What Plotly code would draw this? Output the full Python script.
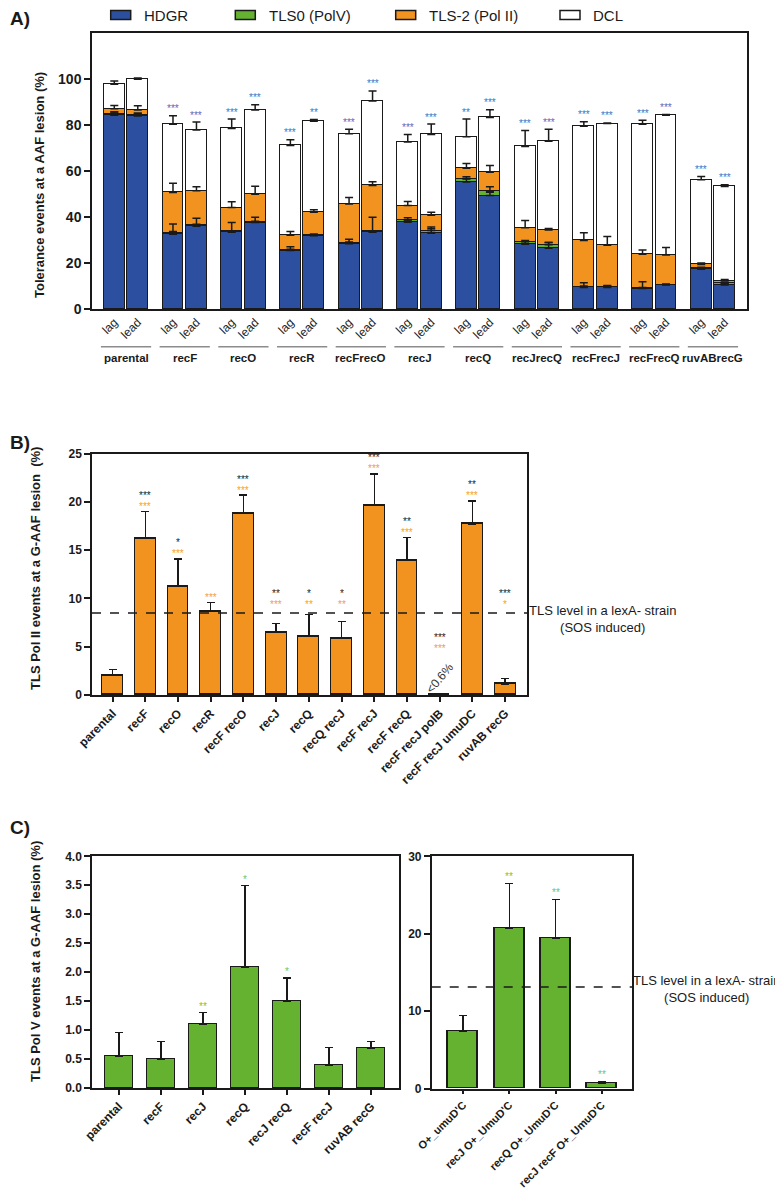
import plotly.graph_objects as go

# reference canvas in px; the page body adds an 8px margin around the figure
W, H = 783, 1193
OFF = 8
FW, FH = W - OFF, H - OFF
FONT = "Liberation Sans, Arial, sans-serif"
INK = "#1a1a1a"

# ---------------- A) tolerance events per strand (stacked)
groups_a = ["parental", "recF", "recO", "recR", "recFrecO", "recJ",
            "recQ", "recJrecQ", "recFrecJ", "recFrecQ", "ruvABrecG"]
strands_a = ["lag", "lead"]
series_a = ["HDGR", "TLS0 (PolV)", "TLS-2 (Pol II)", "DCL"]

hdgr = [84.2, 83.9, 32.5, 36.0, 33.4, 37.6, 25.4, 31.9, 28.4, 33.4, 37.7,
        32.9, 55.2, 49.3, 28.2, 26.4, 9.4, 9.4, 8.9, 10.4, 17.3, 10.4]
tls0 = [0.6, 0.6, 0.6, 0.5, 0.3, 0.3, 0.3, 0.3, 0.4, 0.3, 1.0,
        1.2, 1.3, 1.8, 1.1, 1.5, 0.3, 0.3, 0.2, 0.2, 0.6, 0.8]
tls2 = [2.3, 2.0, 17.6, 14.9, 10.4, 12.0, 6.4, 9.9, 16.8, 20.0, 6.3,
        6.7, 4.7, 8.4, 6.0, 6.4, 20.1, 18.0, 14.7, 12.9, 1.5, 1.0]
dcl = [10.6, 13.4, 29.6, 26.4, 34.4, 36.6, 39.0, 39.5, 30.6, 36.7, 27.6,
       35.1, 13.7, 23.8, 35.4, 38.6, 49.7, 52.9, 56.5, 60.7, 36.8, 41.1]
hdgr_err = [1.5, 1.2, 4.5, 3.5, 4.2, 2.3, 1.7, 0.6, 1.9, 6.5, 1.0,
            2.0, 1.5, 1.5, 1.0, 2.5, 2.0, 0.8, 2.9, 0.3, 0.6, 0.6]
tls0_err = [0.8, 0.6, 0.6, 0.4, 0.3, 0.3, 0.3, 0.3, 0.3, 0.3, 1.0,
            1.5, 1.0, 2.0, 0.5, 1.0, 0.3, 0.3, 0.3, 0.3, 0.3, 0.3]
tls2_err = [1.4, 1.9, 4.0, 1.8, 2.5, 3.5, 1.6, 1.0, 2.9, 1.6, 1.7,
            1.3, 2.1, 2.9, 3.2, 0.7, 3.3, 3.8, 1.9, 3.2, 0.6, 0.6]
dcl_err = [1.4, 0.5, 3.7, 3.5, 4.1, 2.3, 2.5, 0.8, 2.0, 4.4, 3.3,
           4.5, 7.7, 3.3, 6.9, 5.2, 1.9, 0.3, 1.8, 0.4, 1.4, 0.7]
sig_a = ["", "", "***", "***", "***", "***", "***", "**", "***", "***", "***",
         "***", "**", "***", "***", "***", "***", "***", "***", "***", "***", "***"]

# ---------------- B) TLS Pol II
strains_b = ["parental", "recF", "recO", "recR", "recF recO", "recJ", "recQ",
             "recQ recJ", "recF recJ", "recF recQ", "recF recJ polB",
             "recF recJ umuDC", "ruvAB recG"]
tls_polii = [2.04, 16.2, 11.26, 8.67, 18.8, 6.46, 6.08, 5.87, 19.65, 13.95, 0, 17.7, 1.14]
tls_polii_err = [0.62, 2.8, 2.84, 0.93, 1.9, 0.93, 2.24, 1.73, 3.25, 2.35, 0, 2.4, 0.56]
sig_b_black = ["", "***", "*", "", "***", "**", "*", "*", "***", "**", "***", "**", "***"]
sig_b_orange = ["", "***", "***", "***", "***", "***", "**", "**", "***", "***", "***", "***", "*"]
lexa_b = 8.5

# ---------------- C) TLS Pol V
strains_c = ["parental", "recF", "recJ", "recQ", "recJ recQ", "recF recJ", "ruvAB recG"]
tls_polv = [0.55, 0.5, 1.1, 2.09, 1.49, 0.4, 0.69]
tls_polv_err = [0.41, 0.3, 0.2, 1.41, 0.41, 0.3, 0.11]
sig_c = ["", "", "**", "*", "*", "", ""]

strains_c2 = ["O+_umuD'C", "recJ O+_UmuD'C", "recQ O+_UmuD'C", "recJ recF O+_UmuD'C"]
tls_polv2 = [7.43, 20.7, 19.4, 0.73]
tls_polv2_err = [1.98, 5.8, 5.0, 0.13]
sig_c2 = ["", "**", "**", "**"]
lexa_c = 13.1

BLUE, GREEN, ORANGE, WHITE = "#2C4F9F", "#64B22F", "#F29320", "#FFFFFF"
colors_a = [BLUE, GREEN, ORANGE, WHITE]


def px(x):
    return (x - OFF) / FW


def py(y):
    return 1 - (y - OFF) / FH


def dx(a, b):
    return [px(a), px(b)]


def dy(top, bottom):
    return [py(bottom), py(top)]


def err(vals):
    return dict(type="data", array=vals, arrayminus=[0] * len(vals), symmetric=False,
                color=INK, thickness=1.5, width=4)


fig = go.Figure()
line = dict(color=INK, width=1.5)

# A bars
xa = [g * 2.5 + s for g in range(len(groups_a)) for s in range(len(strands_a))]
tops = [0] * len(xa)
err_layers = []
for name, vals, errs, col in zip(series_a, [hdgr, tls0, tls2, dcl],
                                 [hdgr_err, tls0_err, tls2_err, dcl_err], colors_a):
    fig.add_trace(go.Bar(x=xa, y=vals, name=name, width=0.89, marker=dict(color=col, line=line),
                         xaxis="x", yaxis="y", showlegend=False))
    tops = [t + v for t, v in zip(tops, vals)]
    err_layers.append((list(tops), errs))
# error bars drawn on top of all segments
for t, e in err_layers:
    fig.add_trace(go.Scatter(x=xa, y=t, mode="markers", marker=dict(size=1, opacity=0),
                             error_y=err(e), xaxis="x", yaxis="y", showlegend=False, hoverinfo="skip"))

# B bars
fig.add_trace(go.Bar(x=strains_b, y=tls_polii, width=0.64, marker=dict(color=ORANGE, line=line),
                     error_y=err(tls_polii_err), xaxis="x2", yaxis="y2", showlegend=False))
# C bars
fig.add_trace(go.Bar(x=strains_c, y=tls_polv, width=0.66, marker=dict(color=GREEN, line=line),
                     error_y=err(tls_polv_err), xaxis="x3", yaxis="y3", showlegend=False))
fig.add_trace(go.Bar(x=strains_c2, y=tls_polv2, width=0.65, marker=dict(color=GREEN, line=line),
                     error_y=err(tls_polv2_err), xaxis="x4", yaxis="y4", showlegend=False))

ann = []
shapes = []


def star(x, y, text, color, xref, yref, shift, size=10):
    ann.append(dict(x=x, y=y, xref=xref, yref=yref, text=text, showarrow=False,
                    xanchor="center", yanchor="middle", yshift=shift,
                    font=dict(family=FONT, size=size, color=color)))


STAR_BLUE = "#4A6FC2"
for x, t, e, s in zip(xa, tops, dcl_err, sig_a):
    if s:
        star(x, t + e, s, STAR_BLUE, "x", "y", 7)

for c, v, e, sb, so in zip(strains_b, tls_polii, tls_polii_err, sig_b_black, sig_b_orange):
    base = max(v + e, lexa_b + 0.4) if v > 0 else 4.3
    if so:
        star(c, base, so, "#F5A030", "x2", "y2", 5)
    if sb:
        star(c, base, sb, "#222222", "x2", "y2", 16)

STAR_GREEN = "#7CC24A"
for c, v, e, s in zip(strains_c, tls_polv, tls_polv_err, sig_c):
    if s:
        star(c, v + e, s, STAR_GREEN, "x3", "y3", 6)
for c, v, e, s in zip(strains_c2, tls_polv2, tls_polv2_err, sig_c2):
    if s:
        star(c, v + e, s, STAR_GREEN, "x4", "y4", 7)

# "<0.6%" note for the polB strain
ann.append(dict(x="recF recJ polB", y=1.8, xref="x2", yref="y2", text="<0.6%", showarrow=False,
                xanchor="center", yanchor="middle", textangle=-50,
                font=dict(family=FONT, size=12, color="#333333")))

# dashed lexA- levels
shapes.append(dict(type="line", xref="x2 domain", yref="y2", x0=0, x1=1, y0=lexa_b, y1=lexa_b,
                   line=dict(color=INK, width=1.5, dash="dash")))
shapes.append(dict(type="line", xref="x4 domain", yref="y4", x0=0, x1=1, y0=lexa_c, y1=lexa_c,
                   line=dict(color=INK, width=1.5, dash="dash")))
for xc, yc in [(602, 618.5), (706, 989)]:
    ann.append(dict(x=px(xc), y=py(yc), xref="paper", yref="paper", showarrow=False,
                    xanchor="center", yanchor="middle",
                    text="TLS level in a lexA- strain<br>(SOS induced)", align="center",
                    font=dict(family=FONT, size=13, color=INK)))

# A: group labels with grey underline
for g, name in enumerate(groups_a):
    xc = g * 2.5 + 0.5
    shapes.append(dict(type="line", xref="x", yref="paper", x0=xc - 1.07, x1=xc + 1.07,
                       y0=py(346.7), y1=py(346.7), line=dict(color="#8c8c8c", width=1.5)))
    ann.append(dict(x=xc, y=py(357.5), xref="x", yref="paper", text=name, showarrow=False,
                    xanchor="center", yanchor="middle",
                    font=dict(family=FONT, size=11.5, color=INK, weight="bold")))

# A: legend
for name, col, bx, tx in zip(series_a, colors_a, [110.7, 235.3, 395.7, 560], [141.7, 266.7, 426.7, 590.7]):
    shapes.append(dict(type="rect", xref="paper", yref="paper", x0=px(bx), x1=px(bx + 20),
                       y0=py(19.5), y1=py(10.5), fillcolor=col, line=dict(color=INK, width=1.5)))
    ann.append(dict(x=px(tx), y=py(15.5), xref="paper", yref="paper", text=name, showarrow=False,
                    xanchor="left", yanchor="middle", font=dict(family=FONT, size=15, color=INK)))

# panel letters and y titles
for letter, yc in [("A)", 19), ("B)", 443), ("C)", 827)]:
    ann.append(dict(x=px(8), y=py(yc), xref="paper", yref="paper", text=letter, showarrow=False,
                    xanchor="left", yanchor="middle",
                    font=dict(family=FONT, size=19, color=INK, weight="bold")))
for title, xc, yc in [("Tolerance events at a AAF lesion (%)", 39, 185),
                      ("TLS Pol II events at a G-AAF lesion  (%)", 35, 569),
                      ("TLS Pol V events at a G-AAF lesion (%)", 35, 962)]:
    ann.append(dict(x=px(xc), y=py(yc), xref="paper", yref="paper", text=title, showarrow=False,
                    xanchor="center", yanchor="middle", textangle=-90,
                    font=dict(family=FONT, size=13, color=INK, weight="bold")))

axis = dict(showline=True, linecolor=INK, linewidth=1.5, mirror=True, showgrid=False,
            zeroline=False, automargin=False)
tick_bold = dict(family=FONT, size=12, color=INK, weight="bold")

fig.update_layout(
    width=FW, height=FH, autosize=False, margin=dict(l=0, r=0, t=0, b=0),
    paper_bgcolor="white", plot_bgcolor="white", barmode="stack", bargap=0,
    annotations=ann, shapes=shapes,
    xaxis=dict(axis, domain=dx(92, 747), range=[-0.95, 26.95], anchor="y",
               tickvals=xa, ticktext=strands_a * len(groups_a), tickangle=-45, ticks="",
               tickfont=dict(family=FONT, size=12, color=INK)),
    yaxis=dict(axis, domain=dy(33, 309), range=[0, 120], anchor="x", tickvals=list(range(0, 101, 20)),
               ticks="outside", ticklen=6, tickwidth=1.5, tickcolor=INK,
               tickfont=dict(family=FONT, size=14, color=INK, weight="bold")),
    xaxis2=dict(axis, domain=dx(92, 527), range=[-0.63, 12.67], anchor="y2", type="category",
                tickangle=-45, ticks="outside", ticklen=5, tickwidth=1.5, tickcolor=INK, tickfont=tick_bold),
    yaxis2=dict(axis, domain=dy(453.7, 695), range=[0, 25], anchor="x2", dtick=5,
                ticks="outside", ticklen=6, tickwidth=1.5, tickcolor=INK, tickfont=tick_bold),
    xaxis3=dict(axis, domain=dx(92, 399), range=[-0.64, 6.66], anchor="y3", type="category",
                tickangle=-45, ticks="outside", ticklen=5, tickwidth=1.5, tickcolor=INK, tickfont=tick_bold),
    yaxis3=dict(axis, domain=dy(856.3, 1088), range=[0, 4], anchor="x3", dtick=0.5, tickformat=".1f",
                ticks="outside", ticklen=6, tickwidth=1.5, tickcolor=INK, tickfont=tick_bold),
    xaxis4=dict(axis, domain=dx(431.7, 632.3), range=[-0.68, 3.66], anchor="y4", type="category",
                tickangle=-45, ticks="outside", ticklen=4, tickwidth=1.5, tickcolor=INK,
                tickfont=dict(family=FONT, size=11, color=INK, weight="bold")),
    yaxis4=dict(axis, domain=dy(856.3, 1088.5), range=[0, 30], anchor="x4", dtick=10,
                ticks="outside", ticklen=6, tickwidth=1.5, tickcolor=INK, tickfont=tick_bold),
)

fig.write_html("out.html")
